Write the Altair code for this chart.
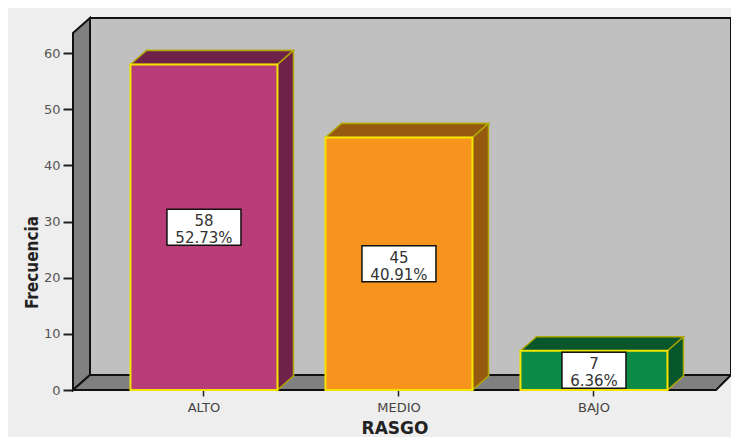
import altair as alt
import pandas as pd

# ---- data ----
categories = ["ALTO", "MEDIO", "BAJO"]
freq = [58, 45, 7]
pct = ["52.73%", "40.91%", "6.36%"]

front_colors = ["#b83c78", "#f7941e", "#0d8a45"]
dark_colors = ["#6e2149", "#955a10", "#08562b"]

y_ticks = [0, 10, 20, 30, 40, 50, 60]

df = pd.DataFrame({"cat": categories, "freq": freq, "pct": pct})
deco = pd.DataFrame({"k": [0]})

FONT = "DejaVu Sans"
W, H = 643, 357

xscale = alt.Scale(domain=categories, paddingInner=0.2, paddingOuter=0.2487, align=0.546)
yscale = alt.Scale(domain=[0, 63.6], nice=False, zero=True)

xaxis = alt.Axis(
    title="RASGO", labelAngle=0, domain=False, grid=False,
    tickSize=6, tickWidth=1.5, tickColor="#222222",
    labelFont=FONT, labelFontSize=13, labelColor="#444444", labelPadding=5,
    titleFont=FONT, titleFontSize=17, titleFontWeight="bold", titleColor="#222222",
    titleY=43, titleBaseline="alphabetic",
)
yaxis = alt.Axis(
    title="Frecuencia", values=y_ticks, domain=False, grid=False,
    tickSize=10, tickWidth=2, tickColor="#222222",
    labelFont=FONT, labelFontSize=13, labelColor="#555555", labelPadding=3,
    titleFont="DejaVu Sans Condensed, Liberation Sans, sans-serif", titleFontSize=17,
    titleFontWeight="bold", titleColor="#222222", titleX=-36, titleY=229,
    titleAlign="center", titleBaseline="alphabetic",
)

X = alt.X("cat:N", sort=categories, scale=xscale, axis=xaxis)
Y = alt.Y("freq:Q", scale=yscale, axis=yaxis)

# ---- 3D box decoration (back wall, left wall, floor) ----
def poly(path, fill, stroke="#111111", sw=2):
    return alt.Chart(deco).mark_point(
        shape=path, size=4, filled=True, fill=fill, stroke=stroke,
        strokeWidth=sw, opacity=1, strokeJoin="miter",
    ).encode(x=alt.value(0), y=alt.value(0))

back_wall = poly("M17,-15 L658,-15 L658,342 L17,342 Z", "#c0c0c0")
left_wall = poly("M0,0 L17,-15 L17,342 L0,357 Z", "#808080")
floor = poly("M0,357 L17,342 L658,342 L643,357 Z", "#808080")

# ---- bars ----
base = alt.Chart(df).transform_calculate(
    dk="datum.cat", mid="datum.freq/2", bw="length(datum.pct)*10+14"
)
dark_color = alt.Color("dk:N", scale=alt.Scale(domain=categories, range=dark_colors), legend=None)
front_color = alt.Color("cat:N", scale=alt.Scale(domain=categories, range=front_colors), legend=None)

EDGE_DARK = "#b0a800"
EDGE_FRONT = "#f2e400"

back_bar = base.mark_bar(
    width=147, xOffset=16, x2Offset=16, yOffset=-14, y2Offset=-14,
    stroke=EDGE_DARK, strokeWidth=1.5,
).encode(x=X, y=Y, color=dark_color)

top_face = base.mark_point(
    shape="M73.5,0 L-73.5,0 L-57.5,-14 L89.5,-14 Z", size=4, filled=True,
    stroke=EDGE_DARK, strokeWidth=1.5, opacity=1,
).encode(x=X, y=Y, color=dark_color)

bottom_tri = base.mark_point(
    shape="M73.5,-16 L73.5,0 L89.5,-14 L89.5,-16", size=4, filled=True,
    stroke=EDGE_DARK, strokeWidth=1.5, opacity=1,
).encode(x=X, y=alt.Y(datum=0, scale=yscale), color=dark_color)

front_bar = base.mark_bar(
    width=147, stroke=EDGE_FRONT, strokeWidth=2,
).encode(x=X, y=Y, color=front_color)

box = base.mark_bar(
    fill="white", stroke="#111111", strokeWidth=1.5, yOffset=-18, y2Offset=18,
).encode(
    x=X,
    y=alt.Y("mid:Q", scale=yscale, axis=yaxis),
    y2="mid:Q",
    size=alt.Size("bw:Q", scale=None, legend=None),
)

txt1 = base.mark_text(
    font=FONT, fontSize=15, color="#333333", baseline="alphabetic", dy=-1,
).encode(x=X, y=alt.Y("mid:Q", scale=yscale, axis=yaxis), text="freq:Q")

txt2 = base.mark_text(
    font=FONT, fontSize=15, color="#333333", baseline="alphabetic", dy=16,
).encode(x=X, y=alt.Y("mid:Q", scale=yscale, axis=yaxis), text="pct:N")

chart = alt.layer(
    back_wall, left_wall, floor,
    back_bar, top_face, bottom_tri, front_bar,
    box, txt1, txt2,
).resolve_scale(color="independent").properties(
    width=W, height=H,
    autosize=alt.AutoSizeParams(type="none"),
    padding={"left": 65, "top": 25, "right": 15, "bottom": 47},
    background="#eeeeee",
).configure_view(strokeWidth=0)

chart.save("out.html", embed_options={"renderer": "svg", "actions": False})
